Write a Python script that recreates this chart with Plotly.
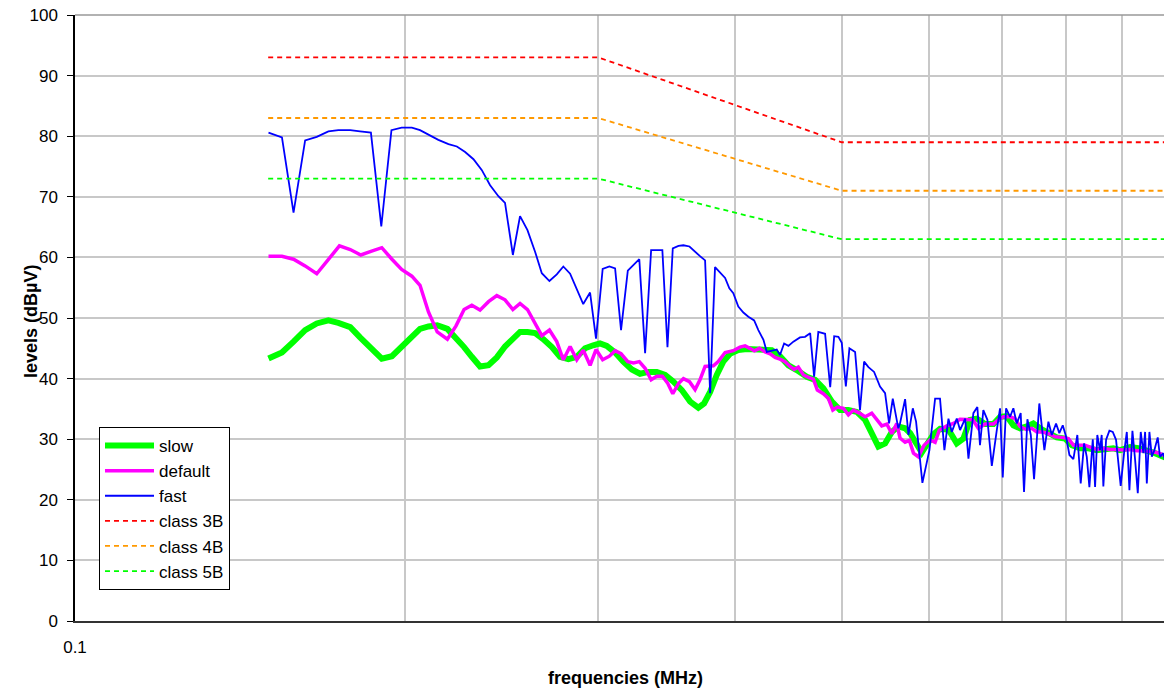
import plotly.graph_objects as go

# ---------------- data ----------------
fast_f = [0.1501, 0.1544, 0.1582, 0.1621, 0.1661, 0.1702, 0.1738, 0.1782, 0.1819, 0.1861,
          0.1902, 0.1943, 0.1985, 0.2028, 0.2063, 0.2100, 0.2144, 0.2190, 0.2229, 0.2268,
          0.2308, 0.2349, 0.2390, 0.2432, 0.2466, 0.2507, 0.2545, 0.2585, 0.2627, 0.2664,
          0.2707, 0.2749, 0.2787, 0.2827, 0.2867, 0.2906, 0.2948, 0.2985, 0.3027, 0.3070,
          0.3107, 0.3146, 0.3191, 0.3229, 0.3269, 0.3309, 0.3351, 0.3391, 0.3431, 0.3468,
          0.3507, 0.3549, 0.3586, 0.3632, 0.3675, 0.3713, 0.3753, 0.3793, 0.3832, 0.3872,
          0.3914, 0.3949, 0.3982, 0.4024, 0.4067, 0.4110, 0.4160, 0.4197, 0.4242, 0.4272,
          0.4326, 0.4362, 0.4392, 0.4430, 0.4470, 0.4517, 0.4580, 0.4629, 0.4679, 0.4718,
          0.4760, 0.4828, 0.4880, 0.4921, 0.4965, 0.5000, 0.5043, 0.5081, 0.5142, 0.5195,
          0.5240, 0.5288, 0.5351, 0.5418, 0.5476, 0.5522, 0.5565, 0.5630, 0.5650, 0.5711,
          0.5751, 0.5804, 0.5844, 0.5922, 0.6010, 0.6082, 0.6145, 0.6202, 0.6255, 0.6299,
          0.6365, 0.6409, 0.6478, 0.6523, 0.6591, 0.6646, 0.6683, 0.6730, 0.6788, 0.6851,
          0.6923, 0.6970, 0.7010, 0.7059, 0.7119, 0.7168, 0.7219, 0.7279, 0.7330, 0.7382,
          0.7435, 0.7486, 0.7569, 0.7650, 0.7715, 0.7770, 0.7840, 0.7894, 0.7951, 0.8007,
          0.8063, 0.8130, 0.8198, 0.8256, 0.8315, 0.8362, 0.8408, 0.8468, 0.8509, 0.8549,
          0.8597, 0.8628, 0.8658, 0.8708, 0.8769, 0.8831, 0.8892, 0.8979, 0.9043, 0.9095,
          0.9145, 0.9203, 0.9255, 0.9307, 0.9365, 0.9417, 0.9451, 0.9485, 0.9537, 0.9585,
          0.9637, 0.9705, 0.9751, 0.9819, 0.9876, 0.9923, 0.9973]
fast_db = [80.6, 79.8, 67.4, 79.3, 79.9, 80.8, 81.0, 81.0, 80.8, 80.6,
           65.1, 81.0, 81.4, 81.4, 81.0, 80.2, 79.4, 78.7, 78.3, 77.4,
           76.2, 74.4, 71.9, 70.1, 69.0, 60.4, 66.8, 64.5, 60.9, 57.4,
           56.1, 57.2, 58.5, 57.3, 54.9, 52.3, 54.2, 46.6, 58.1, 58.5,
           58.2, 48.0, 57.8, 58.7, 59.7, 44.2, 61.2, 61.2, 61.2, 45.2,
           61.5, 61.9, 62.0, 61.8, 60.9, 60.2, 59.5, 37.6, 58.4, 57.5,
           56.6, 54.9, 54.1, 51.9, 50.9, 50.2, 49.6, 48.0, 46.4, 44.4,
           44.7, 44.8, 43.9, 45.8, 45.4, 46.1, 46.8, 46.9, 47.5, 40.3,
           47.7, 47.4, 38.6, 47.0, 46.9, 45.9, 38.7, 45.0, 44.4, 34.8,
           42.8, 41.9, 41.1, 38.7, 37.6, 32.6, 36.7, 31.8, 32.6, 36.6,
           30.7, 35.1, 32.9, 22.8, 28.2, 36.7, 36.7, 28.2, 33.4, 31.2,
           33.4, 31.5, 33.4, 26.8, 34.3, 35.3, 29.0, 34.8, 33.2, 25.6,
           31.5, 35.1, 23.7, 35.1, 33.7, 35.1, 32.6, 34.3, 21.3, 33.3,
           30.7, 23.4, 35.9, 28.2, 32.9, 30.7, 32.6, 31.0, 32.3, 30.4,
           27.4, 26.7, 30.7, 22.7, 29.3, 27.1, 22.1, 30.0, 22.1, 30.7,
           28.2, 30.7, 22.2, 29.9, 31.4, 31.2, 29.9, 22.3, 27.7, 31.2,
           21.6, 31.4, 26.6, 21.1, 31.2, 27.7, 31.2, 22.7, 31.2, 27.1,
           28.2, 30.3, 27.1, 27.7, 25.7, 27.9, 27.4]

default_f = [0.1501, 0.1544, 0.1582, 0.1621, 0.1661, 0.1702, 0.1742, 0.1782, 0.1822, 0.1861,
             0.1904, 0.1945, 0.1985, 0.2028, 0.2063, 0.2100, 0.2139, 0.2185, 0.2225, 0.2263,
             0.2300, 0.2340, 0.2382, 0.2424, 0.2466, 0.2507, 0.2545, 0.2585, 0.2627, 0.2664,
             0.2707, 0.2749, 0.2787, 0.2827, 0.2867, 0.2906, 0.2948, 0.2985, 0.3027, 0.3070,
             0.3107, 0.3146, 0.3191, 0.3229, 0.3269, 0.3309, 0.3351, 0.3391, 0.3431, 0.3468,
             0.3507, 0.3549, 0.3586, 0.3632, 0.3675, 0.3713, 0.3753, 0.3819, 0.3858, 0.3914,
             0.3982, 0.4038, 0.4082, 0.4125, 0.4162, 0.4206, 0.4257, 0.4302, 0.4347, 0.4392,
             0.4439, 0.4486, 0.4524, 0.4564, 0.4613, 0.4662, 0.4711, 0.4750, 0.4811, 0.4862,
             0.4907, 0.4954, 0.5017, 0.5070, 0.5124, 0.5188, 0.5251, 0.5325, 0.5381, 0.5438,
             0.5496, 0.5554, 0.5612, 0.5650, 0.5711, 0.5763, 0.5812, 0.5872, 0.5943, 0.6019,
             0.6082, 0.6136, 0.6233, 0.6321, 0.6409, 0.6501, 0.6583, 0.6660, 0.6755, 0.6874,
             0.6946, 0.7019, 0.7119, 0.7194, 0.7268, 0.7362, 0.7451, 0.7529, 0.7624, 0.7715,
             0.7824, 0.7934, 0.8046, 0.8130, 0.8244, 0.8332, 0.8421, 0.8539, 0.8658, 0.8782,
             0.8905, 0.9030, 0.9159, 0.9287, 0.9417, 0.9551, 0.9685, 0.9819, 0.9959]
default_db = [60.2, 60.2, 59.7, 58.6, 57.3, 59.6, 61.9, 61.3, 60.4, 61.0,
              61.6, 59.7, 58.0, 56.9, 55.4, 51.0, 47.7, 46.5, 48.7, 51.4,
              52.1, 51.3, 52.7, 53.7, 53.0, 51.4, 52.4, 51.4, 49.2, 47.1,
              48.0, 46.1, 43.1, 45.3, 43.1, 44.7, 42.2, 44.8, 43.1, 43.7,
              44.6, 44.1, 42.8, 42.6, 42.8, 41.7, 39.8, 40.4, 40.4, 39.3,
              37.5, 39.2, 40.0, 39.5, 38.2, 39.8, 42.0, 42.1, 42.8, 44.3,
              44.6, 45.2, 45.4, 45.0, 44.6, 45.0, 44.4, 44.1, 43.5, 43.2,
              42.8, 42.0, 41.5, 41.9, 40.6, 40.2, 39.9, 38.1, 37.5, 36.7,
              34.8, 35.3, 35.1, 34.0, 34.8, 34.3, 33.7, 34.3, 33.3, 32.2,
              32.5, 30.9, 32.6, 30.2, 29.5, 29.8, 27.7, 27.1, 29.0, 29.9,
              29.5, 31.5, 32.2, 32.6, 33.3, 33.3, 33.2, 31.8, 32.5, 32.5,
              33.2, 33.7, 33.7, 33.4, 32.1, 31.6, 31.8, 31.2, 31.2, 30.9,
              30.4, 30.3, 30.1, 29.0, 29.0, 29.0, 28.7, 28.3, 28.5, 28.3,
              28.3, 28.2, 28.3, 28.1, 28.1, 27.9, 27.8, 27.4, 27.0]

slow_f = [0.1501, 0.1544, 0.1582, 0.1621, 0.1661, 0.1702, 0.1738, 0.1782, 0.1819, 0.1861,
          0.1904, 0.1945, 0.1985, 0.2028, 0.2063, 0.2100, 0.2139, 0.2185, 0.2225, 0.2263,
          0.2300, 0.2340, 0.2382, 0.2424, 0.2466, 0.2505, 0.2545, 0.2585, 0.2627, 0.2673,
          0.2721, 0.2768, 0.2817, 0.2867, 0.2917, 0.2968, 0.3010, 0.3053, 0.3107, 0.3161,
          0.3218, 0.3274, 0.3332, 0.3391, 0.3451, 0.3512, 0.3574, 0.3637, 0.3700, 0.3745,
          0.3793, 0.3846, 0.3899, 0.3955, 0.4024, 0.4096, 0.4195, 0.4317, 0.4392, 0.4470,
          0.4549, 0.4646, 0.4728, 0.4811, 0.4897, 0.4982, 0.5070, 0.5160, 0.5251, 0.5325,
          0.5399, 0.5476, 0.5554, 0.5630, 0.5711, 0.5772, 0.5853, 0.5914, 0.5977, 0.6061,
          0.6145, 0.6255, 0.6365, 0.6454, 0.6546, 0.6638, 0.6755, 0.6874, 0.6970, 0.7070,
          0.7168, 0.7268, 0.7373, 0.7475, 0.7580, 0.7715, 0.7851, 0.7990, 0.8103, 0.8244,
          0.8390, 0.8539, 0.8689, 0.8842, 0.8966, 0.9159, 0.9318, 0.9485, 0.9651, 0.9819,
          0.9973]
slow_db = [43.3, 44.3, 46.1, 48.0, 49.1, 49.6, 49.2, 48.5, 46.8, 45.2,
           43.3, 43.7, 45.3, 46.9, 48.2, 48.6, 48.8, 48.2, 46.8, 45.2,
           43.6, 42.0, 42.2, 43.5, 45.3, 46.6, 47.7, 47.7, 47.5, 46.5,
           45.2, 43.6, 43.2, 43.6, 45.0, 45.5, 45.8, 45.4, 44.3, 42.8,
           41.5, 40.8, 41.1, 41.1, 40.6, 39.5, 38.1, 36.2, 35.2, 35.9,
           37.8, 40.6, 42.8, 44.1, 44.7, 44.9, 44.9, 44.7, 43.7, 42.2,
           41.4, 40.3, 39.8, 38.4, 36.2, 34.8, 34.8, 34.5, 33.2, 30.7,
           28.8, 29.3, 31.2, 32.1, 31.8, 31.0, 28.9, 27.8, 29.1, 30.8,
           31.7, 31.6, 29.3, 30.1, 33.2, 33.4, 32.5, 32.5, 33.7, 33.8,
           32.3, 31.8, 32.1, 32.6, 31.8, 31.0, 30.3, 30.1, 29.0, 28.5,
           28.5, 28.2, 28.3, 28.5, 28.2, 28.7, 28.5, 28.2, 27.7, 27.1,
           26.6]

limit_f = [0.15, 0.3, 0.5, 1.0]
class3b_db = [93, 93, 79, 79]
class4b_db = [83, 83, 71, 71]
class5b_db = [73, 73, 63, 63]

x_tickvals = [0.1, 0.2, 0.3, 0.4, 0.5, 0.6, 0.7, 0.8, 0.9, 1.0]
x_ticktext = ["0.1", "", "", "", "", "", "", "", "", "1"]

# ---------------- figure ----------------
FONT = "Liberation Sans, Arial, sans-serif"
# page body has an 8px margin, so the figure is sized to fit in the 1172x690 window
W, H = 1164, 682
ML, MT, MB = 67, 7, 69
PH = H - MT - MB  # plot height in px
PW = W - ML       # plot width in px

fig = go.Figure()

fig.add_trace(go.Scatter(x=slow_f, y=slow_db, mode="lines", name="slow",
                         line=dict(color="#00ff00", width=6), legendgroup="a"))
fig.add_trace(go.Scatter(x=default_f, y=default_db, mode="lines", name="default",
                         line=dict(color="#ff00ff", width=3.5), legendgroup="b"))
fig.add_trace(go.Scatter(x=fast_f, y=fast_db, mode="lines", name="fast",
                         line=dict(color="#0000ff", width=1.8), legendgroup="c"))
fig.add_trace(go.Scatter(x=limit_f, y=class3b_db, mode="lines", name="class 3B",
                         line=dict(color="#ff0000", width=1.8, dash="5px,4px"), legendgroup="d"))
fig.add_trace(go.Scatter(x=limit_f, y=class4b_db, mode="lines", name="class 4B",
                         line=dict(color="#ff9900", width=1.8, dash="5px,4px"), legendgroup="e"))
fig.add_trace(go.Scatter(x=limit_f, y=class5b_db, mode="lines", name="class 5B",
                         line=dict(color="#00ff00", width=1.8, dash="5px,4px"), legendgroup="f"))

fig.update_layout(
    width=W, height=H,
    margin=dict(l=ML, r=0, t=MT, b=MB, autoexpand=False),
    paper_bgcolor="white", plot_bgcolor="white",
    font=dict(family=FONT, size=17, color="black"),
    showlegend=True,
    legend=dict(x=24 / PW, y=1 - (427 - 15) / PH, xanchor="left", yanchor="top",
                bgcolor="white", bordercolor="black", borderwidth=1,
                font=dict(size=17), tracegroupgap=6, traceorder="normal",
                itemwidth=49),
    xaxis=dict(type="log", range=[-1, 0], tickvals=x_tickvals, ticktext=x_ticktext,
               showgrid=True, gridcolor="#c8c8c8", gridwidth=1.5,
               showline=True, linecolor="#333333", linewidth=2,
               ticks="", ticklabelstandoff=10, zeroline=False,
               ticklabeloverflow="allow"),
    yaxis=dict(range=[0, 100], dtick=10, tick0=0,
               showgrid=True, gridcolor="#c8c8c8", gridwidth=1.5,
               showline=True, linecolor="black", linewidth=1.5,
               ticks="outside", ticklen=6, tickcolor="black", zeroline=False,
               ticklabelstandoff=6, ticklabeloverflow="allow"),
    annotations=[
        dict(text="<b>frequencies (MHz)</b>", xref="paper", yref="paper",
             x=(625 - 75) / PW, y=-(678 - 621) / PH, xanchor="center", yanchor="middle",
             showarrow=False, font=dict(size=18)),
        dict(text="<b>levels (dBµV)</b>", xref="paper", yref="paper",
             x=-(75 - 31) / PW, y=(621 - 322) / PH, xanchor="center", yanchor="middle",
             textangle=-90, showarrow=False, font=dict(size=18)),
    ],
    shapes=[dict(type="line", xref="paper", yref="paper", x0=0, x1=1, y0=1, y1=1,
                 line=dict(color="#999999", width=1.5))],
)

fig.write_html("out.html")
